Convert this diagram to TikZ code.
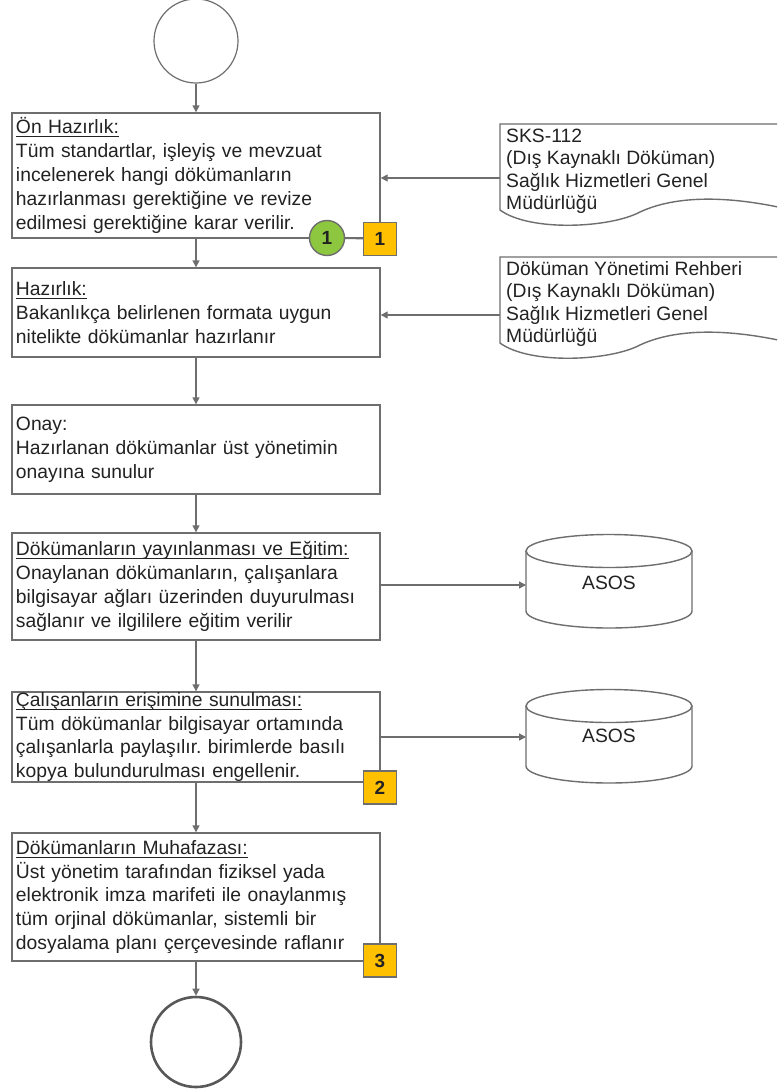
\documentclass[tikz,border=0pt]{standalone}
\usepackage{fontspec}
\setmainfont{Liberation Sans}
\usetikzlibrary{arrows.meta}
\definecolor{ln}{HTML}{6E6E6E}
\definecolor{tx}{HTML}{222222}
\definecolor{gr}{HTML}{8DC63F}
\definecolor{yl}{HTML}{FFC000}
\newcommand\myul[1]{\setbox0\hbox{#1}\rlap{\rule[-3.5pt]{\wd0}{1pt}}\box0}
\frenchspacing
\begin{document}
\begin{tikzpicture}[x=1pt,y=-1pt,
 font=\fontsize{19.3}{23.8}\selectfont, text=tx,
 box/.style={draw=ln,line width=1.4pt,rectangle,minimum width=368pt,text width=360pt,inner xsep=4pt,inner ysep=0pt,align=left,fill=white},
 conn/.style={draw=ln,line width=1.4pt},
 arr/.style={conn,-{Triangle[length=7pt,width=7pt]}},
 badge/.style={draw=ln,line width=1.4pt,fill=yl,minimum size=33pt,inner sep=0pt,font=\fontsize{19}{20}\selectfont\bfseries},
 doctext/.style={anchor=north west,inner sep=0pt,align=left,font=\fontsize{19.3}{22.5}\selectfont},
 outl/.style={draw=ln,line width=1.4pt,fill=white},
]
\useasboundingbox[fill=white] (0,0) rectangle (777,1092);

% terminals
\node[circle,draw=ln,line width=1.2pt,minimum size=84pt,inner sep=0pt] (start) at (196,41) {};
\node[circle,draw=ln!80!black,line width=2.6pt,minimum size=90pt,inner sep=0pt] (end) at (196,1042) {};

% process boxes
\node[box,minimum height=125pt] (b1) at (196,175.5) {\myul{Ön Hazırlık:}\\Tüm standartlar, işleyiş ve mevzuat\\incelenerek hangi dökümanların\\hazırlanması gerektiğine ve revize\\edilmesi gerektiğine karar verilir.};
\node[box,minimum height=89pt] (b2) at (196,312.5) {\myul{Hazırlık:}\\Bakanlıkça belirlenen formata uygun\\nitelikte dökümanlar hazırlanır};
\node[box,minimum height=89pt] (b3) at (196,449.5) {Onay:\\Hazırlanan dökümanlar üst yönetimin\\onayına sunulur};
\node[box,minimum height=107pt] (b4) at (196,586.5) {\myul{Dökümanların yayınlanması ve Eğitim:}\\Onaylanan dökümanların, çalışanlara\\bilgisayar ağları üzerinden duyurulması\\sağlanır ve ilgililere eğitim verilir};
\node[box,minimum height=90pt] (b5) at (196,737) {\myul{Çalışanların erişimine sunulması:}\\Tüm dökümanlar bilgisayar ortamında\\çalışanlarla paylaşılır. birimlerde basılı\\kopya bulundurulması engellenir.};
\node[box,minimum height=128pt] (b6) at (196,897) {\myul{Dökümanların Muhafazası:}\\Üst yönetim tarafından fiziksel yada\\elektronik imza marifeti ile onaylanmış\\tüm orjinal dökümanlar, sistemli bir\\dosyalama planı çerçevesinde raflanır};

% vertical flow
\draw[arr] (start) -- (b1);
\draw[arr] (b1) -- (b2);
\draw[arr] (b2) -- (b3);
\draw[arr] (b3) -- (b4);
\draw[arr] (b4) -- (b5);
\draw[arr] (b5) -- (b6);
\draw[arr] (b6) -- (end);

% documents
\begin{scope}
\clip (0,0) rectangle (777,1092);
\draw[outl] (500,124) -- (800,124) -- (800,212) .. controls (720,192) and (670,198) .. (640,212) .. controls (610,228) and (530,232) .. (500,210) -- cycle;
\draw[outl] (500,257) -- (800,257) -- (800,345) .. controls (720,325) and (670,331) .. (640,345) .. controls (610,361) and (530,365) .. (500,343) -- cycle;
\end{scope}
\node[doctext] (d1) at (506,124) {\rule{0pt}{18pt}SKS-112\\(Dış Kaynaklı Döküman)\\Sağlık Hizmetleri Genel\\Müdürlüğü};
\node[doctext] (d2) at (506,257) {\rule{0pt}{18pt}Döküman Yönetimi Rehberi\\(Dış Kaynaklı Döküman)\\Sağlık Hizmetleri Genel\\Müdürlüğü};
\coordinate (d1w) at (500,178);
\coordinate (d2w) at (500,315);
\draw[arr] (d1w) -- (d1w -| b1.east);
\draw[arr] (d2w) -- (d2w -| b2.east);

% databases
\draw[outl] (526,551) -- (526,611) arc[start angle=180,end angle=360,x radius=83pt,y radius=17pt] -- (692,551);
\draw[outl] (609,551) ellipse [x radius=83pt,y radius=16.5pt];
\node (c1) at (609,583) {ASOS};
\draw[outl] (526,706) -- (526,766) arc[start angle=180,end angle=360,x radius=83pt,y radius=17pt] -- (692,706);
\draw[outl] (609,706) ellipse [x radius=83pt,y radius=16.5pt];
\node (c2) at (609,736) {ASOS};
\coordinate (c1w) at (526,585);
\coordinate (c2w) at (526,737);
\draw[arr] (b4.east |- c1w) -- (c1w);
\draw[arr] (b5.east |- c2w) -- (c2w);

% markers
\node[circle,draw=ln,line width=1.4pt,fill=gr,minimum size=35pt,inner sep=0pt,font=\fontsize{19}{20}\selectfont\bfseries] (g1) at (327,238) {1};
\node[badge] (s1) at (380,239) {1};
\draw[conn] (g1) -- (s1);
\node[badge] (s2) at (380,787.5) {2};
\node[badge] (s3) at (380,960.5) {3};
\end{tikzpicture}
\end{document}
